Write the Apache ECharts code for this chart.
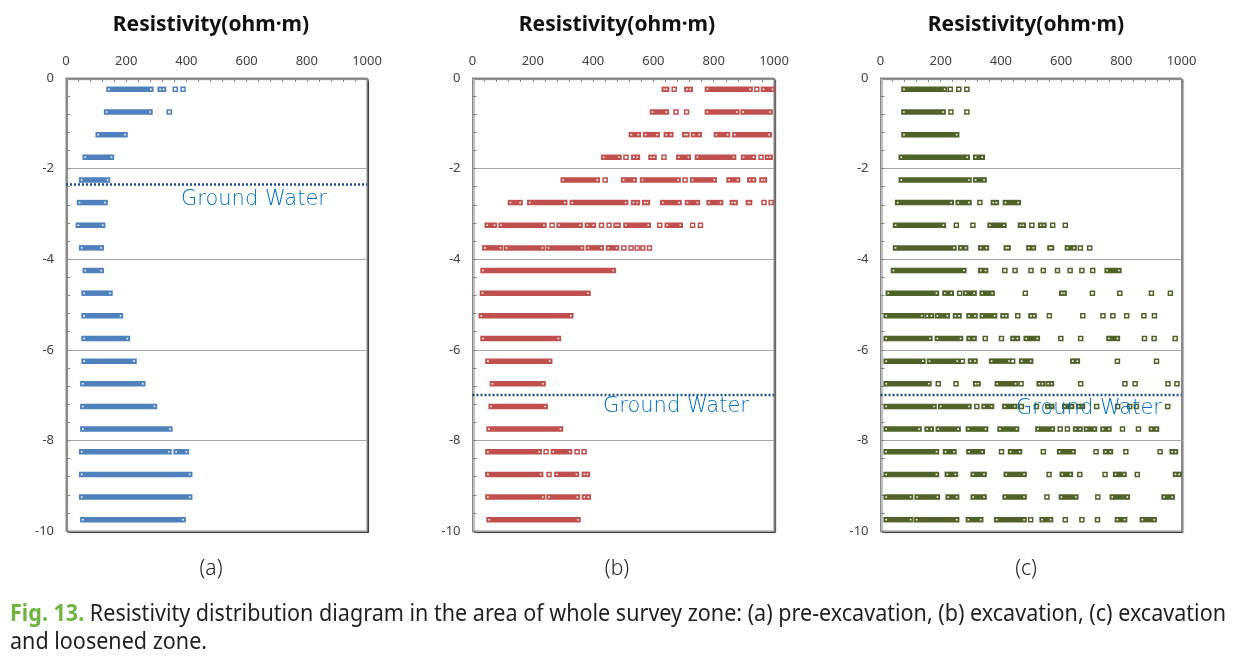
<!DOCTYPE html>
<html><head><meta charset="utf-8">
<script src="https://cdn.jsdelivr.net/npm/echarts/dist/echarts.min.js"></script>
<style>html,body{margin:0;padding:0;background:#fff}#c{width:1239px;height:668px}</style>
</head><body><div id="c"></div>
<script>
// ---- data ----
const depths = [-0.25,-0.75,-1.25,-1.75,-2.25,-2.75,-3.25,-3.75,-4.25,-4.75,-5.25,-5.75,-6.25,-6.75,-7.25,-7.75,-8.25,-8.75,-9.25,-9.75];
const xTickLabels = [0,200,400,600,800,1000];
const yTickLabels = [0,-2,-4,-6,-8,-10];
const axisTitle = 'Resistivity(ohm·m)';
const panelLabels = ['(a)','(b)','(c)'];
const groundWater = [-2.35, -7.0, -7.0];
const groundWaterText = 'Ground Water';
const captionHead = 'Fig. 13.';
const captionLine1 = ' Resistivity distribution diagram in the area of whole survey zone: (a) pre-excavation, (b) excavation, (c) excavation';
const captionLine2 = 'and loosened zone.';

// each row: runs of resistivity values [from, to] (from == to: single reading)
const runsA = [
 [[143,282],[313,324],[363,363],[389,389]],
 [[135,279],[343,343]],
 [[107,196]],
 [[64,151]],
 [[52,138]],
 [[45,130]],
 [[41,122]],
 [[52,117]],
 [[64,117]],
 [[60,146]],
 [[60,181]],
 [[60,204]],
 [[60,226]],
 [[56,255]],
 [[56,294]],
 [[56,345]],
 [[52,342],[366,400]],
 [[52,411]],
 [[52,411]],
 [[56,389]]
];
const runsB = [
 [[636,644],[669,669],[711,722],[779,921],[943,943],[965,995]],
 [[597,643],[675,675],[710,710],[779,877],[898,987]],
 [[527,550],[574,613],[643,658],[704,711],[733,752],[809,846],[870,984]],
 [[435,486],[509,509],[535,547],[592,602],[635,635],[684,716],[746,866],[899,932],[957,957],[978,987]],
 [[301,414],[440,440],[501,536],[564,682],[705,705],[730,802],[851,879],[920,932],[960,968]],
 [[126,158],[190,306],[331,508],[534,547],[571,580],[631,685],[713,746],[785,823],[862,871],[915,919],[967,967],[989,992]],
 [[49,73],[95,237],[264,264],[287,357],[381,401],[428,428],[453,453],[476,483],[509,583],[621,621],[646,689],[730,730],[756,756]],
 [[41,93],[113,232],[252,362],[384,427],[451,478],[502,502],[526,526],[546,546],[565,565],[587,587]],
 [[35,467]],
 [[33,383]],
 [[29,326]],
 [[35,285]],
 [[51,256]],
 [[66,234]],
 [[62,241]],
 [[55,292]],
 [[51,221],[244,244],[268,322],[347,347],[370,370]],
 [[51,226],[254,254],[280,345],[371,381]],
 [[51,233],[254,348],[371,384]],
 [[55,350]]
];
const runsC = [
 [[78,213],[232,232],[260,260],[287,287]],
 [[78,208],[234,234],[287,287]],
 [[78,253]],
 [[69,288],[316,338]],
 [[69,294],[316,344]],
 [[57,235],[258,294],[330,330],[375,385],[415,458]],
 [[50,209],[252,252],[307,307],[364,410],[465,474],[503,503],[532,543],[572,572],[614,614]],
 [[50,244],[266,283],[333,352],[418,424],[493,508],[563,568],[621,643],[664,664],[695,695]],
 [[43,277],[333,349],[413,413],[447,447],[500,500],[541,541],[588,588],[630,630],[669,669],[705,705],[753,792]],
 [[26,186],[214,235],[263,263],[283,311],[338,371],[481,481],[602,610],[704,704],[795,795],[900,900],[963,963]],
 [[19,137],[155,169],[189,222],[249,261],[294,314],[338,379],[407,417],[455,457],[500,510],[561,561],[672,672],[739,739],[772,772],[818,818],[875,875],[910,910]],
 [[19,164],[189,266],[294,311],[348,348],[402,402],[440,455],[484,521],[599,599],[665,665],[759,787],[877,877],[909,909],[979,979]],
 [[19,141],[163,255],[272,272],[299,314],[369,427],[439,439],[469,499],[639,654],[787,787],[917,917]],
 [[19,161],[192,192],[251,251],[316,324],[388,449],[467,467],[527,538],[557,568],[665,665],[812,812],[846,846],[955,955],[985,985]],
 [[19,178],[200,294],[320,320],[344,369],[413,446],[468,468],[518,518],[556,569],[612,635],[658,671],[718,718],[788,788],[828,828],[850,850],[954,954]],
 [[19,128],[155,169],[192,258],[292,349],[397,452],[523,571],[597,597],[621,621],[648,663],[684,711],[739,759],[804,804],[857,857],[900,917]],
 [[19,186],[216,244],[294,338],[402,402],[432,462],[541,541],[595,640],[716,716],[748,764],[815,815],[929,929],[969,980]],
 [[19,186],[222,249],[308,344],[418,477],[560,560],[604,631],[662,662],[746,746],[781,809],[853,853],[980,992]],
 [[19,100],[122,189],[225,253],[308,344],[414,477],[553,553],[601,649],[722,722],[770,820],[942,969]],
 [[19,100],[120,253],[292,333],[386,477],[499,499],[537,565],[614,614],[669,669],[721,721],[787,811],[870,909]]
];

// ---- styling / layout ----
const panels = [runsA, runsB, runsC];
const colors = ['#4f81bd', '#c0504d', '#4f6228'];
const gridPos = [
  {left: 66, top: 78, width: 301, height: 453},
  {left: 472.5, top: 78, width: 301.5, height: 453},
  {left: 880.5, top: 78, width: 301, height: 453}
];
const centers = [211, 617, 1026];
const gwTextPos = [[181, 200], [603, 407], [1016, 409]];
const axisGray = '#868686';

function runRenderer(color) {
  return function (params, api) {
    const d = api.value(2);
    const p0 = api.coord([api.value(0), d]);
    const p1 = api.coord([api.value(1), d]);
    const w = p1[0] - p0[0];
    const y = p0[1];
    const children = [];
    const hollow = (x) => ({type: 'rect', shape: {x: x - 2, y: y - 2, width: 4, height: 4},
      style: {fill: '#fff', stroke: color, lineWidth: 1.5}});
    if (w < 1) {
      children.push(hollow((p0[0] + p1[0]) / 2));
    } else {
      children.push({type: 'rect', shape: {x: p0[0] - 2.75, y: y - 2.75, width: w + 5.5, height: 5.5},
        style: {fill: color}});
      children.push({type: 'rect', shape: {x: p0[0] - 0.8, y: y - 0.8, width: 1.6, height: 1.6}, style: {fill: '#fff'}});
      children.push({type: 'rect', shape: {x: p1[0] - 0.8, y: y - 0.8, width: 1.6, height: 1.6}, style: {fill: '#fff'}});
    }
    return {type: 'group', children};
  };
}

const grid = [], xAxis = [], yAxis = [], series = [], graphic = [];
panels.forEach((runs, k) => {
  grid.push(Object.assign({show: true, borderColor: axisGray, borderWidth: 1, backgroundColor: '#fff',
    shadowColor: 'rgba(0,0,0,0.55)', shadowOffsetX: 1.5, shadowOffsetY: 1.5, shadowBlur: 1}, gridPos[k]));
  xAxis.push({type: 'value', gridIndex: k, position: 'top', min: 0, max: 1000, interval: 200,
    axisLine: {show: true, lineStyle: {color: axisGray}},
    axisTick: {show: true, inside: true, length: 4, lineStyle: {color: axisGray}},
    minorTick: {show: true, splitNumber: 5, length: 4, lineStyle: {color: axisGray}},
    splitLine: {show: false},
    axisLabel: {fontSize: 13, color: '#404040', margin: 10, fontFamily: 'Noto Sans',
      formatter: v => xTickLabels.includes(v) ? String(v) : ''}});
  yAxis.push({type: 'value', gridIndex: k, min: -10, max: 0, interval: 2,
    axisLine: {show: true, lineStyle: {color: axisGray}},
    axisTick: {show: true, inside: true, length: 4, lineStyle: {color: axisGray}},
    minorTick: {show: true, splitNumber: 5, length: 4, lineStyle: {color: axisGray}},
    splitLine: {show: true, lineStyle: {color: '#a6a6a6', width: 1}},
    axisLabel: {fontSize: 13, color: '#404040', margin: 12, fontFamily: 'Noto Sans',
      formatter: v => yTickLabels.includes(v) ? String(v) : ''}});
  const data = [];
  runs.forEach((row, i) => row.forEach(r => data.push([r[0], r[1], depths[i]])));
  series.push({type: 'custom', xAxisIndex: k, yAxisIndex: k, renderItem: runRenderer(colors[k]),
    encode: {x: [0, 1], y: 2}, data, clip: false, silent: true, z: 3});
  series.push({type: 'line', xAxisIndex: k, yAxisIndex: k, symbol: 'none', silent: true, z: 4,
    data: [[0, groundWater[k]], [1000, groundWater[k]]],
    lineStyle: {color: '#1f4e8c', width: 2.5, type: [2, 2]}});
  graphic.push({type: 'text', x: centers[k], y: 25,
    style: {text: axisTitle, fontSize: 21, fontWeight: 'bold', fontFamily: 'Noto Sans', fill: '#111',
      textAlign: 'center', textVerticalAlign: 'middle'}});
  graphic.push({type: 'text', x: gwTextPos[k][0], y: gwTextPos[k][1], z: 10,
    style: {text: groundWaterText, fontSize: 21, fontWeight: 200, fontFamily: 'DejaVu Sans', fill: '#0070c0',
      textAlign: 'left', textVerticalAlign: 'middle'}});
  graphic.push({type: 'text', x: centers[k], y: 569,
    style: {text: panelLabels[k], fontSize: 21, fontWeight: 300, fontFamily: 'Noto Sans', fill: '#231f20',
      textAlign: 'center', textVerticalAlign: 'middle'}});
});

// caption: condensed by scaleX to fit the reference line width
const capFont = 23;
const cnv = document.createElement('canvas').getContext('2d');
cnv.font = 'bold ' + capFont + 'px "Noto Sans"';
const wHead = cnv.measureText(captionHead).width;
cnv.font = capFont + 'px "Noto Sans"';
const wRest = cnv.measureText(captionLine1).width;
const sx = (1226 - 10) / (wHead + wRest);
graphic.push({type: 'text', x: 10, y: 614, scaleX: sx,
  style: {text: '{g|' + captionHead + '}{t|' + captionLine1 + '}', textVerticalAlign: 'middle',
    rich: {g: {fontSize: capFont, fontWeight: 'bold', fontFamily: 'Noto Sans', fill: '#6fb43f', color: '#6fb43f'},
           t: {fontSize: capFont, fontFamily: 'Noto Sans', fill: '#231f20', color: '#231f20'}}}});
graphic.push({type: 'text', x: 10, y: 642, scaleX: sx,
  style: {text: captionLine2, fontSize: capFont, fontFamily: 'Noto Sans', fill: '#231f20', textVerticalAlign: 'middle'}});

const chart = echarts.init(document.getElementById('c'));
chart.setOption({animation: false, backgroundColor: '#fff', grid, xAxis, yAxis, series, graphic});
</script></body></html>
